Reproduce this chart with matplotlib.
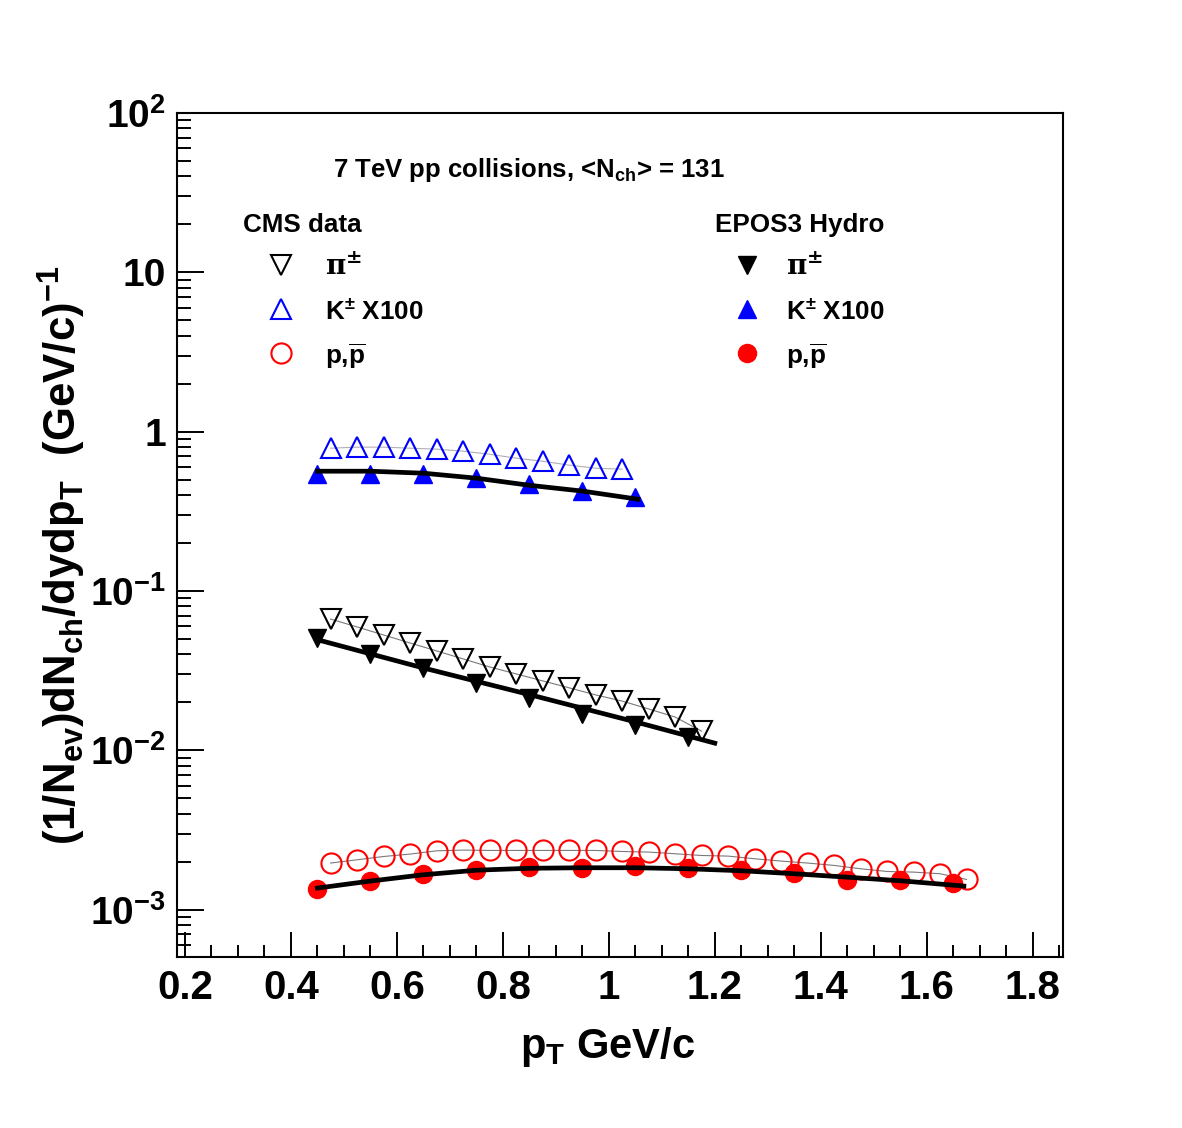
import numpy as np
import matplotlib
matplotlib.use('Agg')
import matplotlib.pyplot as plt
from matplotlib.ticker import FixedLocator, MultipleLocator, FuncFormatter, LogLocator, NullFormatter

# Schrift wie ROOT (Helvetica fett)
plt.rcParams['font.family'] = ['Liberation Sans', 'DejaVu Sans']
plt.rcParams['font.weight'] = 'bold'
plt.rcParams['mathtext.fontset'] = 'custom'
plt.rcParams['mathtext.rm'] = 'Liberation Sans:bold'
plt.rcParams['mathtext.it'] = 'Liberation Sans:bold'
plt.rcParams['mathtext.bf'] = 'Liberation Sans:bold'
plt.rcParams['mathtext.sf'] = 'Liberation Sans:bold'

# CMS Daten (offene Symbole)
pi_data_pt = [0.475, 0.525, 0.575, 0.625, 0.675, 0.725, 0.775, 0.825, 0.875, 0.925,
              0.975, 1.025, 1.075, 1.125, 1.175]
pi_data = [0.0667, 0.0595, 0.0530, 0.0472, 0.0421, 0.0375, 0.0334, 0.0302, 0.0273, 0.0247,
           0.0223, 0.0204, 0.0182, 0.0162, 0.0132]

k_data_pt = [0.475, 0.525, 0.575, 0.625, 0.675, 0.725, 0.775, 0.825, 0.875, 0.925, 0.975, 1.025]
k_data = [0.788, 0.80, 0.80, 0.788, 0.777, 0.755, 0.722, 0.682, 0.653, 0.617, 0.59, 0.582]

p_data_pt = [0.475, 0.525, 0.575, 0.625, 0.675, 0.725, 0.775, 0.825, 0.875, 0.925,
             0.975, 1.025, 1.075, 1.125, 1.175, 1.225, 1.275, 1.325, 1.375, 1.425,
             1.475, 1.525, 1.575, 1.625, 1.675]
p_data = [1.963e-3, 2.058e-3, 2.158e-3, 2.234e-3, 2.343e-3, 2.367e-3, 2.355e-3, 2.355e-3,
          2.355e-3, 2.355e-3, 2.355e-3, 2.32e-3, 2.30e-3, 2.245e-3, 2.19e-3, 2.17e-3,
          2.088e-3, 2.02e-3, 1.963e-3, 1.897e-3, 1.807e-3, 1.738e-3, 1.722e-3, 1.682e-3,
          1.549e-3]

# EPOS3 Hydro (volle Symbole)
pi_epos_pt = [0.45, 0.55, 0.65, 0.75, 0.85, 0.95, 1.05, 1.15]
pi_epos = [0.0507, 0.0403, 0.0329, 0.0265, 0.0213, 0.0169, 0.0144, 0.0122]

k_epos_pt = [0.45, 0.55, 0.65, 0.75, 0.85, 0.95, 1.05]
k_epos = [0.541, 0.541, 0.541, 0.511, 0.469, 0.423, 0.388]

p_epos_pt = [0.45, 0.55, 0.65, 0.75, 0.85, 0.95, 1.05, 1.15, 1.25, 1.35, 1.45, 1.55, 1.65]
p_epos = [1.354e-3, 1.504e-3, 1.682e-3, 1.777e-3, 1.853e-3, 1.834e-3, 1.868e-3, 1.834e-3,
          1.763e-3, 1.699e-3, 1.527e-3, 1.542e-3, 1.470e-3]

# Fitkurven (schwarz)
pi_fit_pt = [0.45, 0.65, 0.85, 1.05, 1.2]
pi_fit = [0.0495, 0.0329, 0.0224, 0.0151, 0.0111]

k_fit_pt = [0.45, 0.55, 0.65, 0.75, 0.85, 0.95, 1.055]
k_fit = [0.565, 0.565, 0.549, 0.511, 0.461, 0.424, 0.377]

p_fit_pt = [0.45, 0.55, 0.65, 0.75, 0.85, 0.95, 1.05, 1.15, 1.25, 1.35, 1.45, 1.55, 1.67]
p_fit = [1.367e-3, 1.513e-3, 1.657e-3, 1.770e-3, 1.820e-3, 1.834e-3, 1.834e-3, 1.807e-3,
         1.756e-3, 1.682e-3, 1.60e-3, 1.52e-3, 1.408e-3]

y_ticks = [1e-3, 1e-2, 1e-1, 1, 10, 100]
y_ticklabels = [r'$10^{-3}$', r'$10^{-2}$', r'$10^{-1}$', '1', '10', r'$10^{2}$']

fig = plt.figure(figsize=(11.82, 11.28), dpi=100)
ax = fig.add_axes([0.1497, 0.1516, 0.7496, 0.7482])

grey = '#7a7a7a'
ms_open = 14.5
ms_full = 13

# graue Verbindungslinien der Daten
ax.plot(pi_data_pt, pi_data, color=grey, lw=0.8, zorder=2)
ax.plot(k_data_pt, k_data, color='#b0b0b0', lw=0.8, zorder=2)
ax.plot(p_data_pt, p_data, color=grey, lw=0.8, zorder=2)

pi_label = r'$\mathrm{\pi}^{\pm}$'
h_pi, = ax.plot(pi_data_pt, pi_data, ls='none', marker='v', ms=ms_open, mfc='none',
                mec='black', mew=1.5, zorder=3, label=pi_label)
h_k, = ax.plot(k_data_pt, k_data, ls='none', marker='^', ms=ms_open, mfc='none',
               mec='blue', mew=1.5, zorder=3, label=r'K$^{\pm}$ X100')
h_p, = ax.plot(p_data_pt, p_data, ls='none', marker='o', ms=ms_open, mfc='none',
               mec='red', mew=1.5, zorder=3, label=r'p,$\overline{\mathrm{p}}$')

e_pi, = ax.plot(pi_epos_pt, pi_epos, ls='none', marker='v', ms=ms_full, color='black',
                zorder=4, label=pi_label)
e_k, = ax.plot(k_epos_pt, k_epos, ls='none', marker='^', ms=ms_full, color='blue',
               zorder=4, label=r'K$^{\pm}$ X100')
e_p, = ax.plot(p_epos_pt, p_epos, ls='none', marker='o', ms=ms_full, color='red',
               zorder=4, label=r'p,$\overline{\mathrm{p}}$')

ax.plot(pi_fit_pt, pi_fit, color='black', lw=3.4, zorder=5)
ax.plot(k_fit_pt, k_fit, color='black', lw=3.4, zorder=5)
ax.plot(p_fit_pt, p_fit, color='black', lw=3.4, zorder=5)

ax.set_yscale('log')
ax.set_xlim(0.185, 1.857)
ax.set_ylim(5.05e-4, 100)

ax.xaxis.set_major_locator(MultipleLocator(0.2))
ax.xaxis.set_minor_locator(MultipleLocator(0.05))
ax.xaxis.set_major_formatter(FuncFormatter(lambda v, p: '%g' % round(v, 3)))
ax.yaxis.set_major_locator(FixedLocator(y_ticks))
ax.set_yticklabels(y_ticklabels)
ax.yaxis.set_minor_locator(LogLocator(base=10, subs=np.arange(2, 10)))
ax.yaxis.set_minor_formatter(NullFormatter())

ax.tick_params(axis='both', which='both', direction='in', top=False, right=False, width=1.4)
ax.tick_params(axis='x', which='major', length=18, labelsize=29, pad=9)
ax.tick_params(axis='x', which='minor', length=9)
ax.tick_params(axis='y', which='major', length=19.5, labelsize=28, pad=8)
ax.tick_params(axis='y', which='minor', length=10)
for s in ax.spines.values():
    s.set_linewidth(1.5)

ax.set_xlabel(r'p$_{T}$ GeV/c', fontsize=30, fontweight='bold')
ax.xaxis.set_label_coords(0.4865, -0.08)
ax.xaxis.label.set_va('top')
ax.set_ylabel(r'(1/N$_{ev}$)dN$_{ch}$/dydp$_{T}$  (GeV/c)$^{-1}$', fontsize=31.5, fontweight='bold')
ax.yaxis.set_label_coords(-0.1295, 0.476)
ax.yaxis.label.set_va('center')

ax.text(0.176, 0.924, r'7 TeV pp collisions, <N$_{ch}$> = 131', transform=ax.transAxes,
        fontsize=18.5, fontweight='bold', ha='left', va='baseline')

leg_kw = dict(frameon=False, loc='upper left', fontsize=18.7, title_fontsize=18.7,
              alignment='left', handleheight=1.0, labelspacing=0.65, borderpad=0,
              borderaxespad=0)
leg1 = ax.legend(handles=[h_pi, h_k, h_p], title='CMS data', handlelength=2.9,
                 handletextpad=0.25, bbox_to_anchor=(0.0745, 0.881), **leg_kw)
ax.add_artist(leg1)
leg2 = ax.legend(handles=[e_pi, e_k, e_p], title='EPOS3 Hydro', handlelength=2.45,
                 handletextpad=0.3, bbox_to_anchor=(0.607, 0.881), **leg_kw)
for leg in (leg1, leg2):
    leg.get_title().set_fontweight('bold')
    t = leg.get_texts()[0]
    t.set_math_fontfamily('dejavuserif')
    t.set_fontsize(20)

fig.savefig('out.png', dpi=100)
